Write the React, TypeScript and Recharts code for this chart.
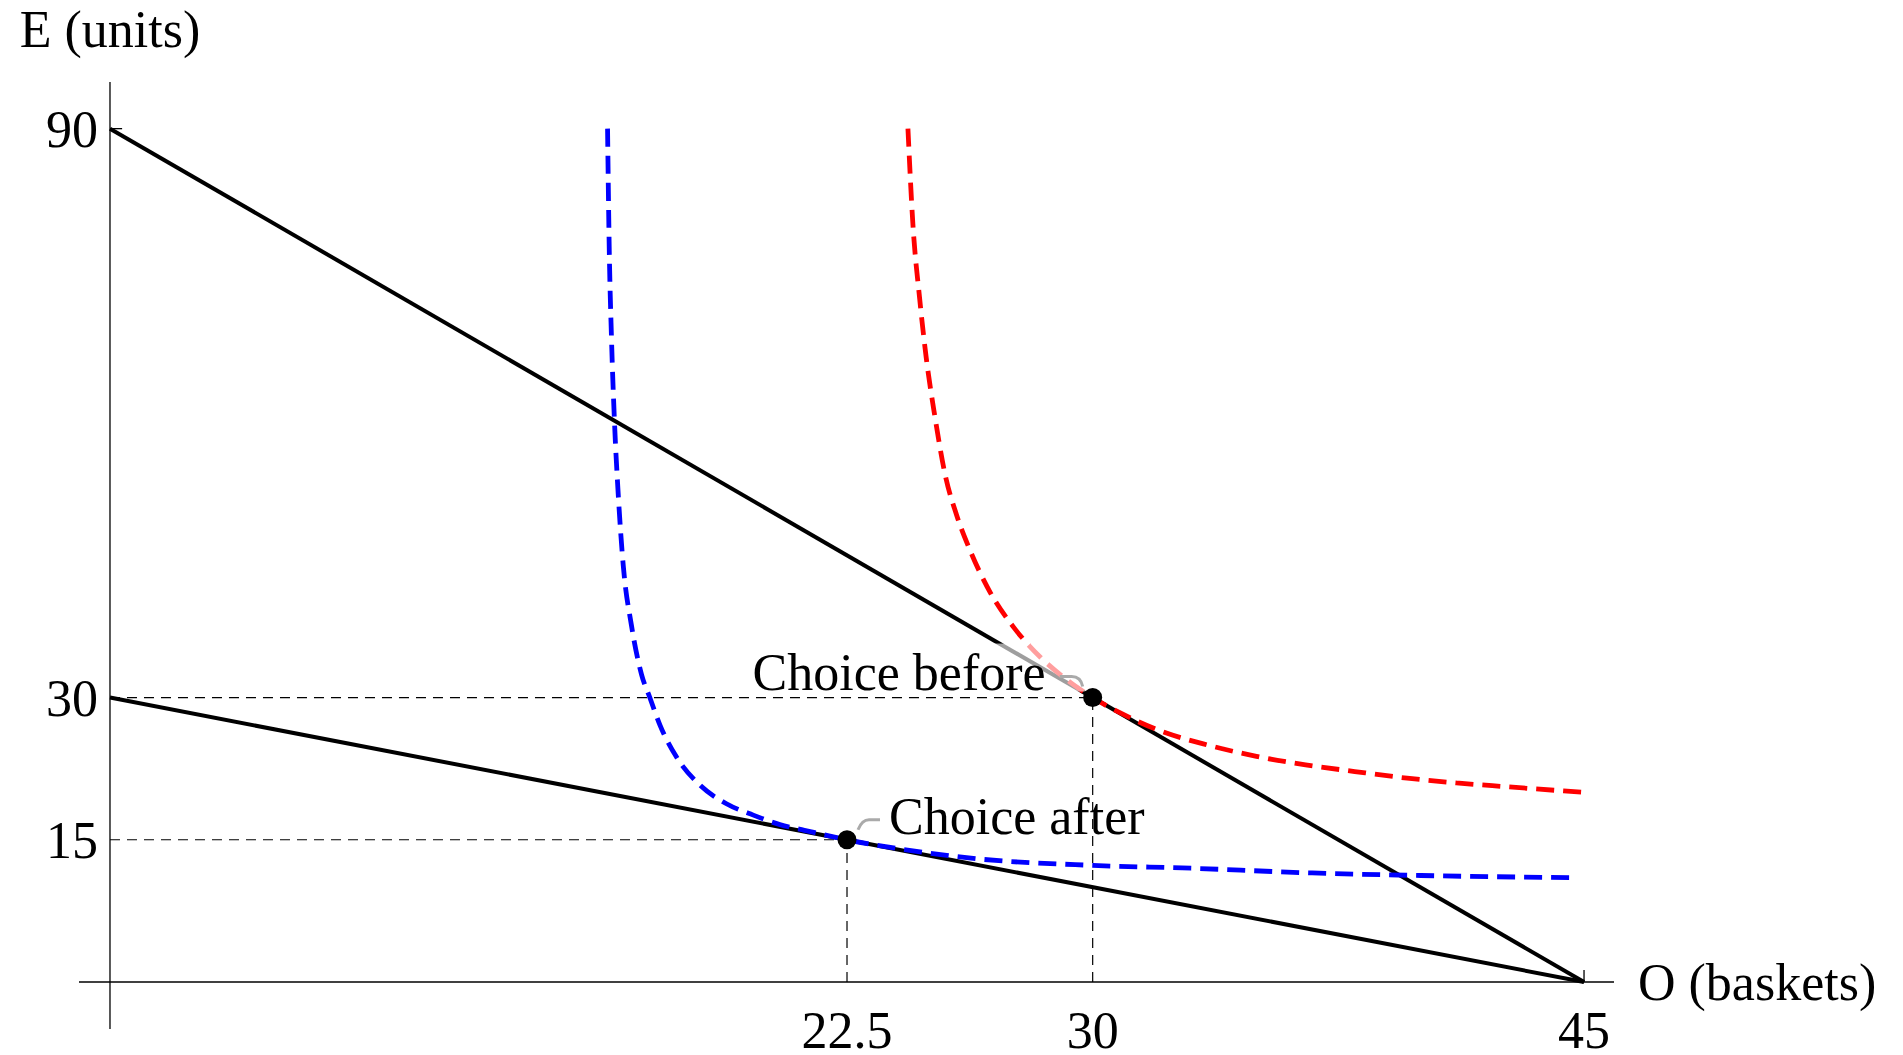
import React from 'react';
import { LineChart, Line, XAxis, YAxis, ReferenceLine, ReferenceDot } from 'recharts';

// budget lines (O = baskets, E = units)
const budgetO = [0, 45];
const budgetBeforeE = [90, 0];
const budgetAfterE = [30, 0];

// indifference curve through the old choice (red)
const redO = [24.36, 24.51, 24.72, 24.92, 25.18, 25.49, 25.85, 26.26, 26.87, 27.59, 28.42, 29.24, 30, 30.89, 31.98, 33.5, 35, 36.5, 38, 39.6, 41.1, 42.6, 45];
const redE = [90, 80, 72, 65.8, 59.7, 53.6, 49.2, 45.5, 41.1, 37.4, 34.2, 31.8, 30, 28.3, 26.6, 25.0, 23.8, 22.9, 22.2, 21.5, 21.0, 20.6, 20.0];

// indifference curve through the new choice (blue)
const blueO = [15.19, 15.24, 15.31, 15.4, 15.52, 15.67, 15.92, 16.23, 16.48, 16.79, 17.3, 18.0, 18.82, 19.64, 20.45, 21.2, 22.5, 24.0, 26.45, 30, 33, 36.7, 40.5, 44.7];
const blueE = [90, 77.6, 67.9, 59.2, 51.2, 43.9, 37.6, 32.4, 30.0, 27.1, 23.7, 20.8, 18.8, 17.6, 16.6, 16.0, 15, 14.1, 13.0, 12.3, 12.0, 11.5, 11.2, 11.0];

const xTicks = [22.5, 30, 45];
const yTicks = [15, 30, 90];

const choiceBefore = { o: 30, e: 30 };
const choiceAfter = { o: 22.5, e: 15 };

const zip = (os: number[], es: number[]) => os.map((o, i) => ({ o, e: es[i] }));

const budgetBefore = zip(budgetO, budgetBeforeE);
const budgetAfter = zip(budgetO, budgetAfterE);
const redCurve = zip(redO, redE);
const blueCurve = zip(blueO, blueE);

const FONT = 'Liberation Serif, Times New Roman, serif';
const FS = 52;

const XTick = ({ x, y, payload }: any) => (
  <text x={x} y={y + 19} textAnchor="middle" fontSize={FS} fontFamily={FONT} fill="#000">
    {payload.value}
  </text>
);

const YTick = ({ x, y, payload }: any) => (
  <text x={x + 19} y={y + 18} textAnchor="end" fontSize={FS} fontFamily={FONT} fill="#000">
    {payload.value}
  </text>
);

// callout: translucent label box fades the lines it covers, then leader + dot + text
const BeforeMarker = ({ cx, cy }: any) => (
  <g>
    <rect x={cx - 348} y={cy - 54} width={340} height={48} fill="#fff" fillOpacity={0.62} />
    <path d={`M${cx - 33},${cy - 21} L${cx - 21},${cy - 21} Q${cx - 12},${cy - 21} ${cx - 10},${cy - 11}`} stroke="#aaa" strokeWidth={3} fill="none" />
    <circle cx={cx} cy={cy} r={9.5} fill="#000" />
    <text x={cx - 47} y={cy - 8} textAnchor="end" fontSize={FS} fontFamily={FONT} fill="#000">Choice before</text>
  </g>
);

const AfterMarker = ({ cx, cy }: any) => (
  <g>
    <path d={`M${cx + 11},${cy - 10} Q${cx + 15},${cy - 20} ${cx + 22},${cy - 20} L${cx + 33},${cy - 20}`} stroke="#aaa" strokeWidth={3} fill="none" />
    <circle cx={cx} cy={cy} r={9.5} fill="#000" />
    <text x={cx + 42} y={cy - 6} textAnchor="start" fontSize={FS} fontFamily={FONT} fill="#000">Choice after</text>
  </g>
);

const App: React.FC = () => (
  <div style={{ position: 'absolute', left: 0, top: 0, background: '#fff' }}>
    <LineChart
      width={1903}
      height={1055}
      margin={{ top: 82, right: 289, bottom: 0, left: 0 }}
      style={{ fontFamily: FONT }}
    >
      <XAxis
        type="number"
        dataKey="o"
        domain={[-0.946, 45.915]}
        allowDataOverflow
        ticks={xTicks}
        height={26}
        axisLine={false}
        tickLine={false}
        tickSize={0}
        tickMargin={0}
        tick={<XTick />}
        interval={0}
      />
      <YAxis
        type="number"
        dataKey="e"
        domain={[-4.957, 94.92]}
        allowDataOverflow
        ticks={yTicks}
        width={79}
        axisLine={false}
        tickLine={false}
        tickSize={0}
        tickMargin={0}
        tick={<YTick />}
        interval={0}
      />

      {/* axes */}
      <ReferenceLine
        x={0}
        stroke="#000"
        strokeWidth={1.3}
        label={{ value: 'E (units)', position: 'top', offset: 35, fill: '#000', fontSize: FS, fontFamily: FONT }}
      />
      <ReferenceLine
        y={0}
        stroke="#000"
        strokeWidth={1.3}
        label={{ value: 'O (baskets)', position: 'right', offset: 24, fill: '#000', fontSize: FS, fontFamily: FONT }}
      />
      <ReferenceLine segment={[{ x: 0, y: 90 }, { x: 0.37, y: 90 }]} stroke="#000" strokeWidth={1.3} />
      <ReferenceLine segment={[{ x: 45, y: 0 }, { x: 45, y: 1.27 }]} stroke="#000" strokeWidth={1.3} />

      {/* guide lines to the choices */}
      <ReferenceLine segment={[{ x: 0, y: choiceBefore.e }, { x: choiceBefore.o, y: choiceBefore.e }]} stroke="#000" strokeWidth={1.2} strokeDasharray="10 7" />
      <ReferenceLine segment={[{ x: choiceBefore.o, y: 0 }, { x: choiceBefore.o, y: choiceBefore.e }]} stroke="#000" strokeWidth={1.2} strokeDasharray="10 7" />
      <ReferenceLine segment={[{ x: 0, y: choiceAfter.e }, { x: choiceAfter.o, y: choiceAfter.e }]} stroke="#000" strokeWidth={1.2} strokeDasharray="10 7" />
      <ReferenceLine segment={[{ x: choiceAfter.o, y: 0 }, { x: choiceAfter.o, y: choiceAfter.e }]} stroke="#000" strokeWidth={1.2} strokeDasharray="10 7" />

      <Line data={budgetBefore} dataKey="e" type="linear" stroke="#000" strokeWidth={4} dot={false} activeDot={false} isAnimationActive={false} />
      <Line data={budgetAfter} dataKey="e" type="linear" stroke="#000" strokeWidth={4} dot={false} activeDot={false} isAnimationActive={false} />
      <Line data={redCurve} dataKey="e" type="monotone" stroke="#ff0000" strokeWidth={4.8} strokeDasharray="18 9" dot={false} activeDot={false} isAnimationActive={false} />
      <Line data={blueCurve} dataKey="e" type="monotone" stroke="#0000ff" strokeWidth={4.8} strokeDasharray="18 9" dot={false} activeDot={false} isAnimationActive={false} />

      <ReferenceDot x={choiceBefore.o} y={choiceBefore.e} r={9.5} shape={<BeforeMarker />} />
      <ReferenceDot x={choiceAfter.o} y={choiceAfter.e} r={9.5} shape={<AfterMarker />} />
    </LineChart>
  </div>
);

export default App;
